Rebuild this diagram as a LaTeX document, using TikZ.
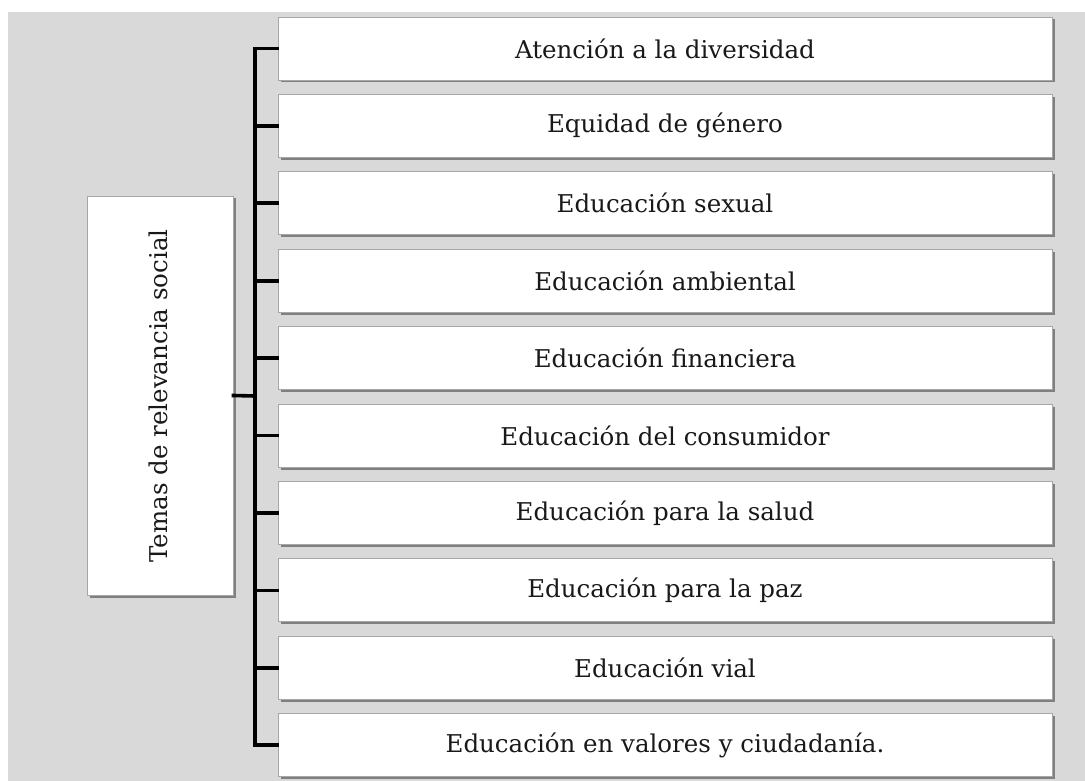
\documentclass[tikz,border=0pt]{standalone}
\usepackage{fontspec}
\setmainfont{DejaVu Serif}
\usetikzlibrary{shadows}
\definecolor{bggray}{HTML}{D9D9D9}
\definecolor{shgray}{HTML}{808080}
\definecolor{bdgray}{HTML}{A6A6A6}
\tikzset{
  x=1pt,y=-1pt,
  item/.style={draw=bdgray,line width=0.8pt,fill=white,minimum width=774pt,minimum height=63pt,
    inner sep=0pt,font=\fontsize{24.5}{28}\selectfont,text=black!90,
    drop shadow={shadow xshift=2.5pt,shadow yshift=-2.5pt,fill=shgray,opacity=1}},
  mainbox/.style={draw=bdgray,line width=0.8pt,fill=white,minimum width=146pt,minimum height=399pt,
    inner sep=0pt,drop shadow={shadow xshift=2.5pt,shadow yshift=-2.5pt,fill=shgray,opacity=1}},
  conn/.style={line width=3.6pt,black,line cap=rect}
}
\begin{document}
\begin{tikzpicture}
\useasboundingbox (0,0) rectangle (1085,781);
\fill[bggray] (8,12) rectangle (1085,781);
\node[mainbox] (L) at (160,395.5) {};
\node[rotate=90,font=\fontsize{24.5}{28}\selectfont,text=black!90] (Lt) at (158,396) {Temas de relevancia social};
\foreach \i/\t in {1/Atención a la diversidad,2/Equidad de género,3/Educación sexual,4/Educación ambiental,5/Educación financiera,6/Educación del consumidor,7/Educación para la salud,8/Educación para la paz,9/Educación vial,10/Educación en valores y ciudadanía.}{
  \node[item] (b\i) at (665,{48.5+(\i-1)*77.4}) {\t};
  \coordinate (t\i) at (255,{48.5+(\i-1)*77.4});
}
\coordinate (tm) at (255,396);
\draw[conn] (t1) -- (t10);
\foreach \i in {1,...,10}{ \draw[conn] (t\i) -- (b\i.west); }
\draw[conn] (L.east) -- (tm);
\end{tikzpicture}
\end{document}
